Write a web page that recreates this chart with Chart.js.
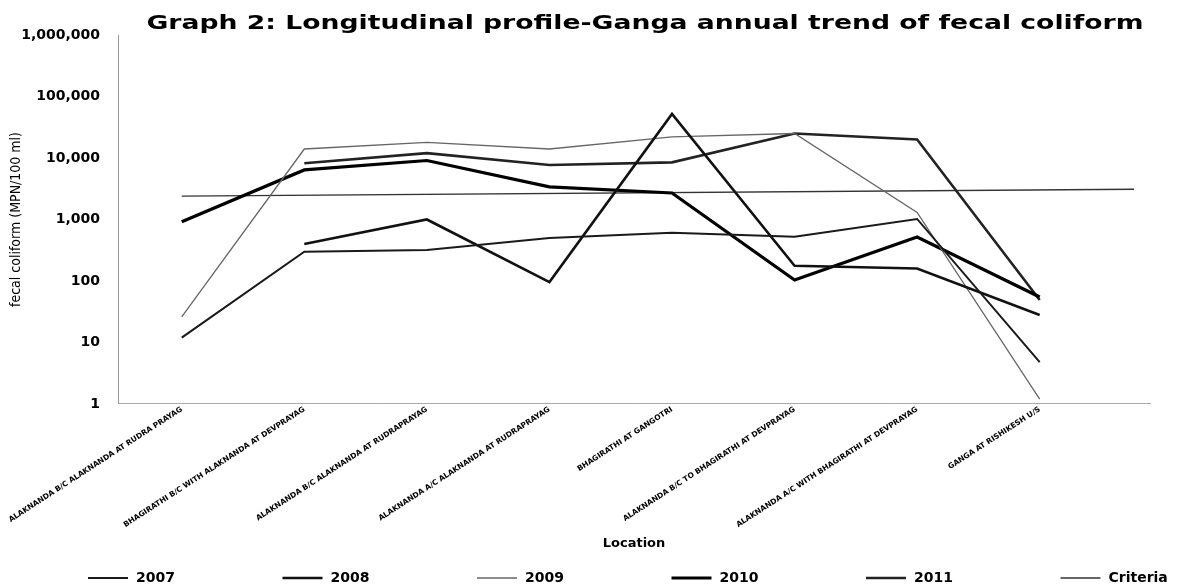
<!DOCTYPE html>
<html>
<head>
<meta charset="utf-8">
<title>Graph 2: Longitudinal profile-Ganga annual trend of fecal coliform</title>
<script src="https://cdn.jsdelivr.net/npm/chart.js@4.4.1/dist/chart.umd.min.js"></script>
<style>
  html, body { margin: 0; padding: 0; background: #fff; }
  #wrap { width: 1180px; height: 587px; }
</style>
</head>
<body>
<div id="wrap"><canvas id="myChart"></canvas></div>
<script>
var chartTitle = 'Graph 2: Longitudinal profile-Ganga annual trend of fecal coliform';

var locations = [
  "ALAKNANDA B/C ALAKNANDA AT RUDRA PRAYAG",
  "BHAGIRATHI B/C WITH ALAKNANDA AT DEVPRAYAG",
  "ALAKNANDA B/C ALAKNANDA AT RUDRAPRAYAG",
  "ALAKNANDA A/C ALAKNANDA AT RUDRAPRAYAG",
  "BHAGIRATHI AT GANGOTRI",
  "ALAKNANDA B/C TO BHAGIRATHI AT DEVPRAYAG",
  "ALAKNANDA A/C WITH BHAGIRATHI AT DEVPRAYAG",
  "GANGA AT RISHIKESH U/S"
];

// fecal coliform, MPN/100 ml
var fc2007 = [12, 300, 320, 500, 610, 525, 1020, 4.8];
var fc2008 = [null, 400, 1000, 96, 52000, 177, 160, 28];
var fc2009 = [26, 14000, 18000, 14000, 22000, 25000, 1300, 1.2];
var fc2010 = [920, 6400, 9100, 3400, 2700, 104, 520, 55];
var fc2011 = [null, 8200, 12000, 7700, 8500, 25000, 20000, 49];

// criteria line runs a bit past the last location
var criteriaX = [0, 7.77];
var criteriaY = [2400, 3100];

var yTicks = [1, 10, 100, 1000, 10000, 100000, 1000000];

function toPoints(vals) {
  return vals.map(function(v, i) { return { x: i, y: v }; });
}

// title drawn by hand so it can be stretched wide like the scan
var titlePlugin = {
  id: 'wideTitle',
  afterDraw: function(chart) {
    var ctx = chart.ctx;
    ctx.save();
    ctx.font = 'bold 20px "DejaVu Sans"';
    ctx.fillStyle = '#000';
    ctx.textAlign = 'center';
    ctx.textBaseline = 'middle';
    var w = ctx.measureText(chartTitle).width;
    ctx.translate(645, 24);
    ctx.scale(997 / w, 1);
    ctx.fillText(chartTitle, 0, 0);
    ctx.restore();
  }
};

var legendPlugin = {
  id: 'bottomLegend',
  afterDraw: function(chart) {
    var ctx = chart.ctx;
    ctx.save();
    ctx.font = 'bold 14px "DejaVu Sans"';
    ctx.textBaseline = 'middle';
    ctx.textAlign = 'left';
    chart.data.datasets.forEach(function(ds, i) {
      var x = 88 + i * 194.5, y = 578;
      ctx.strokeStyle = ds.borderColor;
      ctx.lineWidth = ds.borderWidth;
      ctx.setLineDash(ds.borderDash || []);
      ctx.beginPath();
      ctx.moveTo(x, y);
      ctx.lineTo(x + 40, y);
      ctx.stroke();
      ctx.setLineDash([]);
      ctx.fillStyle = '#000';
      ctx.fillText(ds.label, x + 48, y);
    });
    ctx.restore();
  }
};

var ctx = document.getElementById('myChart');

var data = {
  datasets: [
    { label: '2007', data: toPoints(fc2007), borderColor: '#1a1a1a', borderWidth: 2 },
    { label: '2008', data: toPoints(fc2008), borderColor: '#111111', borderWidth: 2.6 },
    { label: '2009', data: toPoints(fc2009), borderColor: '#666666', borderWidth: 1.3 },
    { label: '2010', data: toPoints(fc2010), borderColor: '#000000', borderWidth: 3.2 },
    { label: '2011', data: toPoints(fc2011), borderColor: '#222222', borderWidth: 2.6 },
    { label: 'Criteria',
      data: criteriaX.map(function(x, i) { return { x: x, y: criteriaY[i] }; }),
      borderColor: '#333333', borderWidth: 1.3 }
  ]
};

var options = {
  responsive: true,
  maintainAspectRatio: false,
  animation: false,
  devicePixelRatio: 1,
  layout: { padding: { left: 0, right: 30, top: 35, bottom: 35 } },
  elements: {
    line: { tension: 0, fill: false },
    point: { radius: 0, hoverRadius: 0 }
  },
  plugins: {
    legend: { display: false },
    tooltip: { enabled: false },
    title: { display: false }
  },
  scales: {
    x: {
      type: 'linear',
      min: -0.52,
      max: 7.9,
      afterBuildTicks: function(axis) {
        axis.ticks = locations.map(function(l, i) { return { value: i }; });
      },
      afterFit: function(axis) {
        // long rotated labels would otherwise push the plot to the right
        axis.paddingLeft = 0;
        axis.paddingRight = 0;
      },
      ticks: {
        autoSkip: false,
        minRotation: 33,
        maxRotation: 33,
        padding: 1,
        color: '#000',
        font: { family: '"DejaVu Sans"', size: 7.5, weight: 'bold' },
        callback: function(value) { return locations[value]; }
      },
      grid: { display: false, drawTicks: false },
      border: { display: true, color: '#aaa', dash: [2, 4] },
      title: {
        display: true,
        text: 'Location',
        color: '#000',
        font: { family: '"DejaVu Sans"', size: 13, weight: 'bold' },
        padding: { top: 5, bottom: 1 }
      }
    },
    y: {
      type: 'logarithmic',
      min: 1,
      max: 1000000,
      afterBuildTicks: function(axis) {
        axis.ticks = yTicks.map(function(v) { return { value: v }; });
      },
      afterFit: function(axis) {
        axis.width = 118;
      },
      ticks: {
        padding: 18,
        color: '#000',
        font: { family: '"DejaVu Sans"', size: 14, weight: 'bold' },
        callback: function(value) { return value.toLocaleString('en-US'); }
      },
      grid: { display: false, drawTicks: false },
      border: { display: true, color: '#999', dash: [2, 3] },
      title: {
        display: true,
        text: 'fecal coliform (MPN/100 ml)',
        color: '#000',
        font: { family: '"Liberation Sans Narrow", "DejaVu Sans Condensed", sans-serif', size: 14 },
        padding: { top: 8, bottom: 0 }
      }
    }
  }
};

var myLineChart = new Chart(ctx, {
  type: 'line',
  data: data,
  options: options,
  plugins: [titlePlugin, legendPlugin]
});
</script>
</body>
</html>
